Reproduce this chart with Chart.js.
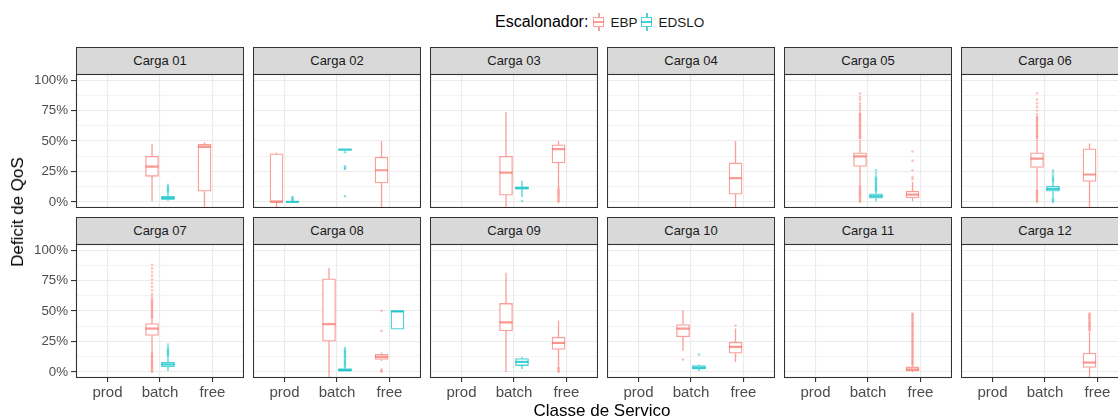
<!DOCTYPE html>
<html><head><meta charset="utf-8">
<script src="https://cdn.jsdelivr.net/npm/chart.js@4.4.1/dist/chart.umd.min.js"></script>
<style>
html,body{margin:0;padding:0;background:#fff;overflow:hidden;}
#fig{position:relative;width:1118px;height:419px;overflow:hidden;background:#fff;font-family:"Liberation Sans",Arial,sans-serif;}
#fig canvas{position:absolute;}
.strip{position:absolute;box-sizing:border-box;background:#D9D9D9;border:1px solid #333;font-size:13px;color:#1A1A1A;text-align:center;line-height:26px;white-space:nowrap;}
.title{position:absolute;white-space:nowrap;font-size:17px;color:#000;}
#legend{position:absolute;top:12px;left:495px;height:20px;display:flex;align-items:center;white-space:nowrap;}
.key{position:relative;display:inline-block;width:11px;height:18px;}
.key .wh{position:absolute;left:4.75px;width:1.5px;top:0;bottom:0;}
.key .bx{position:absolute;left:0;right:0;top:4px;height:10px;box-sizing:border-box;background:#fff;border:1.3px solid;}
.key .md{position:absolute;left:0;right:0;top:8.2px;height:1.6px;}
</style></head>
<body><div id="fig"></div>
<script>
// ---------------- data ----------------
const cargas = ['Carga 01','Carga 02','Carga 03','Carga 04','Carga 05','Carga 06',
                'Carga 07','Carga 08','Carga 09','Carga 10','Carga 11','Carga 12'];
const classes = ['prod','batch','free'];
const escalonadores = ['EBP','EDSLO'];
const legendTitle = 'Escalonador:';
const xTitle = 'Classe de Servico';
const yTitle = 'Deficit de QoS';
const yMajorTicks = [0, 0.25, 0.5, 0.75, 1];
const yTickLabels = ['0%', '25%', '50%', '75%', '100%'];
const yMinorTicks = [0.125, 0.375, 0.625, 0.875];

// [carga (1-based), escalonador (0 EBP / 1 EDSLO), classe (0 prod / 1 batch / 2 free), whiskerLow, q1, median, q3, whiskerHigh]
const boxes = [
  [1,0,1, 0.005, 0.21, 0.29, 0.375, 0.475],
  [1,1,1, 0.01, 0.02, 0.03, 0.045, 0.065],
  [1,0,2, -0.3, 0.088, 0.452, 0.472, 0.49],
  [2,0,0, -0.3, 0.0, 0.0, 0.395, 0.405],
  [2,1,0, -0.006, -0.003, 0.0, 0.003, 0.008],
  [2,1,1, 0.425, 0.426, 0.43, 0.432, 0.435],
  [2,0,2, -0.3, 0.156, 0.26, 0.367, 0.50],
  [3,0,1, -0.3, 0.055, 0.241, 0.375, 0.737],
  [3,1,1, 0.041, 0.104, 0.113, 0.123, 0.173],
  [3,0,2, 0.115, 0.32, 0.433, 0.468, 0.50],
  [4,0,2, -0.3, 0.063, 0.195, 0.32, 0.50],
  [5,0,1, 0.137, 0.291, 0.373, 0.403, 0.507],
  [5,1,1, 0.006, 0.03, 0.047, 0.066, 0.08],
  [5,0,2, 0.006, 0.033, 0.06, 0.088, 0.164],
  [6,0,1, 0.11, 0.283, 0.356, 0.403, 0.51],
  [6,1,1, 0.041, 0.088, 0.107, 0.129, 0.164],
  [6,0,2, -0.3, 0.168, 0.225, 0.436, 0.48],
  [7,0,1, 0.151, 0.299, 0.356, 0.397, 0.43],
  [7,1,1, 0.008, 0.041, 0.061, 0.08, 0.123],
  [8,0,1, -0.3, 0.252, 0.392, 0.764, 0.855],
  [8,1,1, 0.008, 0.008, 0.015, 0.028, 0.035],
  [8,0,2, 0.09, 0.102, 0.123, 0.145, 0.159],
  [8,1,2, 0.351, 0.351, 0.497, 0.501, 0.501],
  [9,0,1, 0.0, 0.337, 0.406, 0.562, 0.814],
  [9,1,1, 0.022, 0.052, 0.082, 0.11, 0.123],
  [9,0,2, 0.05, 0.184, 0.239, 0.285, 0.419],
  [10,0,1, 0.173, 0.288, 0.356, 0.389, 0.507],
  [10,1,1, 0.008, 0.022, 0.035, 0.052, 0.06],
  [10,0,2, 0.082, 0.154, 0.205, 0.244, 0.356],
  [11,0,2, 0.0, 0.008, 0.02, 0.041, 0.055],
  [12,0,2, -0.3, 0.036, 0.077, 0.154, 0.329]
];

// [carga, escalonador, classe, outlier values]
const outliers = [
  [1,1,1, [0.075,0.085,0.095,0.105,0.115,0.125,0.14]],
  [2,1,0, [0.012,0.022,0.032,0.04]],
  [2,1,1, [0.047,0.271,0.279,0.293,0.408]],
  [3,1,1, [0.008]],
  [3,0,2, [0,0.01,0.02,0.03,0.04,0.05,0.06,0.07,0.08,0.09,0.10,0.11]],
  [5,0,1, [0,0.01,0.02,0.03,0.04,0.05,0.06,0.07,0.08,0.09,0.10,0.11,0.12,0.13,
           0.52,0.53,0.54,0.55,0.56,0.57,0.58,0.59,0.60,0.61,0.62,0.63,0.64,0.65,0.66,0.67,
           0.68,0.69,0.70,0.71,0.72,0.73,0.75,0.77,0.79,0.81,0.84,0.86,0.89]],
  [5,1,1, [0.085,0.095,0.105,0.115,0.125,0.135,0.145,0.155,0.165,0.175,0.185,0.195,0.21,0.235,0.26]],
  [5,0,2, [0.185,0.205,0.26,0.337,0.414]],
  [6,0,1, [0,0.01,0.02,0.03,0.04,0.05,0.06,0.07,0.08,0.09,0.10,
           0.52,0.53,0.54,0.55,0.56,0.57,0.58,0.59,0.60,0.61,0.62,0.63,0.64,0.65,0.66,0.67,
           0.68,0.69,0.70,0.72,0.75,0.78,0.81,0.84,0.89]],
  [6,1,1, [0,0.01,0.02,0.03,0.17,0.18,0.19,0.20,0.215,0.235,0.257]],
  [7,0,1, [0,0.01,0.02,0.03,0.04,0.05,0.06,0.07,0.08,0.09,0.10,0.11,0.12,0.13,0.14,0.15,
           0.44,0.45,0.46,0.47,0.48,0.49,0.50,0.51,0.52,0.53,0.54,0.55,0.56,0.57,0.58,0.59,
           0.60,0.62,0.64,0.67,0.70,0.73,0.76,0.79,0.82,0.85,0.88]],
  [7,1,1, [0.13,0.14,0.15,0.16,0.17,0.18,0.19,0.205,0.225]],
  [8,1,1, [0.04,0.05,0.06,0.07,0.08,0.09,0.10,0.11,0.12,0.13,0.14,0.15,0.16,0.17,0.18,0.195]],
  [8,0,2, [0,0.01,0.02,0.337,0.501]],
  [9,0,2, [0,0.01,0.02,0.03,0.04]],
  [10,0,1, [0.102]],
  [10,1,1, [0.143]],
  [10,0,2, [0.381]],
  [11,0,2, [0.06,0.07,0.08,0.09,0.10,0.11,0.12,0.13,0.14,0.15,0.16,0.17,0.18,0.19,0.20,0.21,
            0.22,0.23,0.24,0.25,0.26,0.27,0.28,0.29,0.30,0.31,0.32,0.33,0.34,0.35,0.36,0.37,
            0.38,0.39,0.40,0.41,0.42,0.43,0.44,0.45,0.46,0.47,0.48]],
  [12,0,2, [0.34,0.35,0.36,0.37,0.38,0.39,0.40,0.41,0.42,0.43,0.44,0.45,0.46,0.47,0.48]]
];

// ---------------- styling / layout ----------------
const seriesRGB = ['248,118,109', '0,191,196'];
const FONT = '"Liberation Sans", Arial, sans-serif';
Chart.defaults.font.family = FONT;
const PANEL_W = 168, PANEL_H = 134, COL_STEP = 177;
const PANEL_LEFT0 = 76;
const PANEL_TOPS = [74, 244];
const STRIP_H = 28;
const Y_AXIS_W = 76, X_AXIS_H = 41, PAD_TOP = 10;
const DODGE = 0.152, HALF_BOX = 0.125;
const X_MIN = 0.4, X_MAX = 3.6, Y_MIN = -0.05, Y_MAX = 1.05;

const fig = document.getElementById('fig');

const framePlugin = {
  id: 'frame',
  afterDraw(chart) {
    const a = chart.chartArea, ctx = chart.ctx;
    ctx.save();
    ctx.strokeStyle = '#333333';
    ctx.lineWidth = 1.1;
    ctx.strokeRect(a.left + 0.5, a.top + 0.5, a.right - a.left - 1, a.bottom - a.top - 1);
    ctx.restore();
  }
};

function rgba(s, a) { return 'rgba(' + seriesRGB[s] + ',' + a + ')'; }

cargas.forEach((label, p) => {
  const row = Math.floor(p / 6), col = p % 6;
  const panelLeft = PANEL_LEFT0 + COL_STEP * col;
  const panelTop = PANEL_TOPS[row];
  const carga = p + 1;

  // strip
  const strip = document.createElement('div');
  strip.className = 'strip';
  strip.style.left = panelLeft + 'px';
  strip.style.top = (panelTop - STRIP_H + 1) + 'px';
  strip.style.width = PANEL_W + 'px';
  strip.style.height = STRIP_H + 'px';
  strip.textContent = label;
  fig.appendChild(strip);

  const showY = col === 0, showX = row === 1;
  const cv = document.createElement('canvas');
  const cw = PANEL_W + (showY ? Y_AXIS_W : 0);
  const ch = PAD_TOP + PANEL_H + (showX ? X_AXIS_H : 0);
  cv.width = cw; cv.height = ch;
  cv.style.width = cw + 'px'; cv.style.height = ch + 'px';
  cv.style.left = (panelLeft - (showY ? Y_AXIS_W : 0)) + 'px';
  cv.style.top = (panelTop - PAD_TOP) + 'px';
  fig.appendChild(cv);

  const datasets = [];
  escalonadores.forEach((name, s) => {
    const bx = boxes.filter(b => b[0] === carga && b[1] === s);
    const pos = b => (b[2] + 1) + (s === 0 ? -DODGE : DODGE);
    const ol = outliers.filter(o => o[0] === carga && o[1] === s);
    if (ol.length) {
      datasets.push({
        type: 'scatter', label: name + ' outliers', order: 6,
        data: ol.flatMap(o => o[3].map(v => ({ x: (o[2] + 1) + (s === 0 ? -DODGE : DODGE), y: v }))),
        pointRadius: 1.3, pointBorderWidth: 0, pointBackgroundColor: rgba(s, 0.45),
        pointBorderColor: 'rgba(0,0,0,0)', showLine: false
      });
    }
    if (!bx.length) return;
    datasets.push({
      type: 'line', label: name + ' whiskers', order: 5,
      data: bx.flatMap(b => { const x = pos(b); return [
        { x, y: b[6] }, { x, y: b[7] }, { x, y: null },
        { x, y: b[4] }, { x, y: b[3] }, { x, y: null }]; }),
      borderColor: rgba(s, 0.7), borderWidth: 1.3, pointRadius: 0, spanGaps: false, fill: false
    });
    datasets.push({
      type: 'bar', label: name, order: 3,
      data: bx.map(b => ({ x: pos(b), y: [b[4], b[6]] })),
      backgroundColor: '#ffffff', borderColor: rgba(s, 0.7), borderWidth: 1.3,
      borderSkipped: false, barThickness: 13, grouped: false
    });
    datasets.push({
      type: 'line', label: name + ' median', order: 1,
      data: bx.flatMap(b => { const x = pos(b); return [
        { x: x - HALF_BOX, y: b[5] }, { x: x + HALF_BOX, y: b[5] }, { x, y: null }]; }),
      borderColor: rgba(s, 0.75), borderWidth: 2.2, pointRadius: 0, spanGaps: false, fill: false,
      borderCapStyle: 'butt'
    });
  });

  const yGridValues = yMajorTicks.concat(yMinorTicks).sort((a, b) => a - b);
  const isMajor = v => yMajorTicks.some(m => Math.abs(m - v) < 1e-9);

  new Chart(cv, {
    type: 'scatter',
    data: { datasets },
    plugins: [framePlugin],
    options: {
      responsive: false, animation: false, events: [], devicePixelRatio: 1,
      layout: { padding: { top: PAD_TOP, left: 0, right: 0, bottom: 0 }, autoPadding: false },
      plugins: { legend: { display: false }, tooltip: { enabled: false }, title: { display: false } },
      scales: {
        x: {
          type: 'linear', min: X_MIN, max: X_MAX, offset: false, position: 'bottom',
          border: { display: false },
          grid: { offset: false, color: '#EBEBEB', lineWidth: 1.1, drawTicks: showX, tickLength: 4,
                  tickColor: '#333333', tickWidth: 1.1 },
          ticks: { display: showX, autoSkip: false, maxRotation: 0, padding: 2,
                   color: '#4D4D4D', font: { size: 15, family: FONT },
                   callback: v => classes[Math.round(v) - 1] },
          afterBuildTicks: sc => { sc.ticks = classes.map((c, i) => ({ value: i + 1 })); },
          afterFit: sc => { sc.height = showX ? X_AXIS_H : 0; sc.paddingLeft = 0; sc.paddingRight = 0; }
        },
        y: {
          type: 'linear', min: Y_MIN, max: Y_MAX, position: 'left',
          border: { display: false },
          grid: {
            color: '#EBEBEB',
            lineWidth: ctx => (ctx.tick && isMajor(ctx.tick.value)) ? 1.1 : 0.6,
            drawTicks: showY, tickLength: 5, tickWidth: 1.1,
            tickColor: ctx => (ctx.tick && isMajor(ctx.tick.value)) ? '#333333' : 'rgba(0,0,0,0)'
          },
          ticks: { display: showY, autoSkip: false, padding: 3, color: '#4D4D4D',
                   font: { size: 13.3, family: FONT },
                   callback: v => { const i = yMajorTicks.findIndex(m => Math.abs(m - v) < 1e-9);
                                    return i >= 0 ? yTickLabels[i] : ''; } },
          afterBuildTicks: sc => { sc.ticks = yGridValues.map(v => ({ value: v })); },
          afterFit: sc => { sc.width = showY ? Y_AXIS_W : 0; sc.paddingTop = 0; sc.paddingBottom = 0; }
        }
      }
    }
  });
});

// axis titles
const xt = document.createElement('div');
xt.className = 'title'; xt.textContent = xTitle;
xt.style.left = '602px'; xt.style.top = '411px'; xt.style.transform = 'translate(-50%,-50%)';
fig.appendChild(xt);
const yt = document.createElement('div');
yt.className = 'title'; yt.textContent = yTitle;
yt.style.left = '18px'; yt.style.top = '212px'; yt.style.transform = 'translate(-50%,-50%) rotate(-90deg)';
fig.appendChild(yt);

// legend
const lg = document.createElement('div');
lg.id = 'legend';
const lt = document.createElement('span');
lt.textContent = legendTitle; lt.style.fontSize = '16px'; lt.style.marginRight = '5px';
lg.appendChild(lt);
escalonadores.forEach((name, s) => {
  const k = document.createElement('span'); k.className = 'key';
  const c = rgba(s, 0.7);
  k.innerHTML = '<span class="wh" style="background:' + c + '"></span>' +
                '<span class="bx" style="border-color:' + c + '"></span>' +
                '<span class="md" style="background:' + c + '"></span>';
  lg.appendChild(k);
  const t = document.createElement('span');
  t.textContent = name; t.style.fontSize = '13.5px'; t.style.color = '#1A1A1A';
  t.style.marginLeft = '6px'; t.style.marginRight = '4px';
  lg.appendChild(t);
});
fig.appendChild(lg);
</script>
</body></html>
